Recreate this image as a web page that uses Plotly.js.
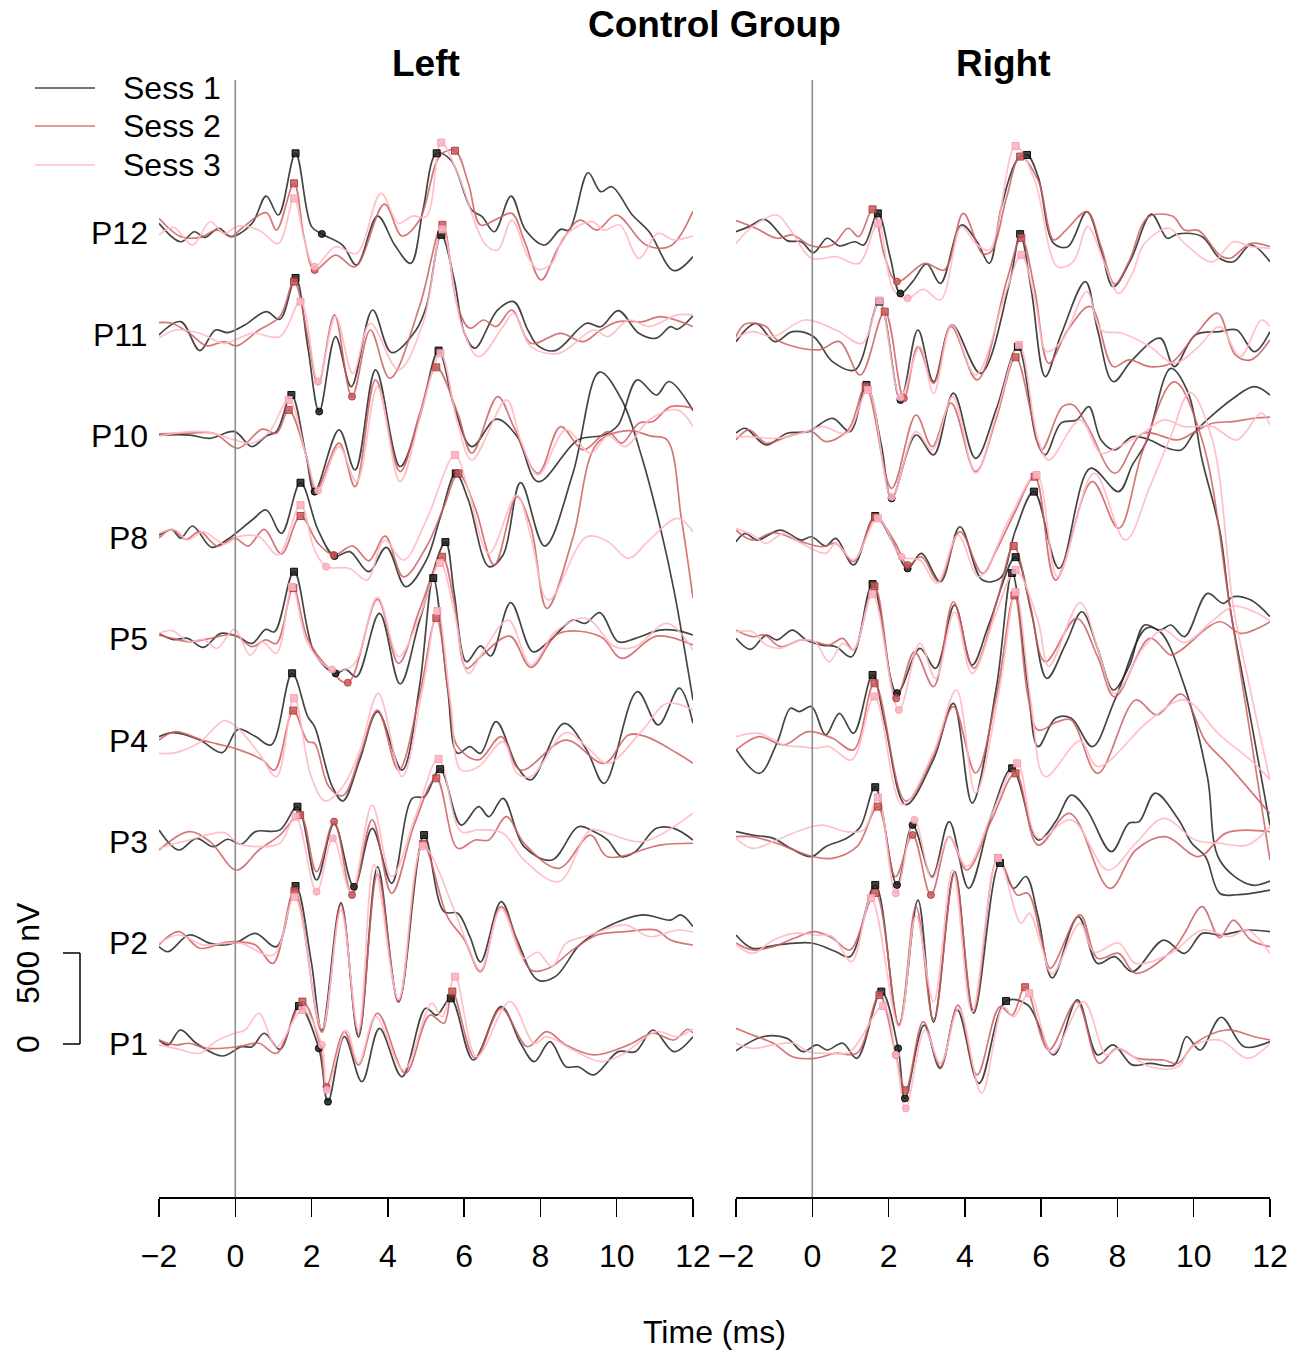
<!DOCTYPE html>
<html><head><meta charset="utf-8">
<script src="https://cdn.plot.ly/plotly-3.0.1.min.js"></script>
<style>html,body{margin:0;padding:0;background:#fff}#chart{width:1308px;height:1354px}</style>
</head><body><div id="chart"></div>
<script>
// ---- categories ----
const electrodes = ['P1','P2','P3','P4','P5','P8','P10','P11','P12'];
const offsets = [0,555,1110,1665,2225,2780,3341,3896,4456]; // nV stacking offsets
const sessions = ['Sess 1','Sess 2','Sess 3'];
const xTicks = [-2,0,2,4,6,8,10,12];
const scaleBar = [0,500];

// ---- LEFT: [time ms, nV, marker('s' peak, 'c' trough)] ----
const L_P12_1=[[-2,53],[-1.43,-48],[-1.07,7],[-0.80,-24],[-0.43,26],[-0.11,-20],[0.44,53],[0.81,203],[1.13,99],[1.58,438,'s'],[2.00,35],[2.27,-5,'c'],[2.81,-66],[3.18,-176],[3.73,93],[4.18,-66],[4.60,-167],[4.92,126],[5.28,438,'s'],[5.65,401],[6.20,126],[6.47,90],[6.79,7],[7.23,203],[7.61,16],[8.11,-66],[8.53,20],[8.75,16],[9.25,331],[9.58,227],[9.87,254],[10.41,99],[10.85,7],[11.50,-207],[12,-130]];
const L_P12_2=[[-2,81],[-1.43,-20],[-0.93,-24],[-0.47,16],[-0.11,-20],[0.17,26],[0.81,112],[1.08,16],[1.54,273,'s'],[1.81,-31],[2.08,-203,'c'],[2.63,-121],[3.14,-185],[3.91,159],[4.37,-16],[4.83,71],[5.38,429],[5.76,452,'s'],[6.11,273],[6.43,44],[6.84,75],[7.25,108],[7.57,-38],[8.02,-258],[8.48,-75],[9.03,71],[9.48,16],[9.99,99],[10.77,-66],[11.41,-71],[12,120]];
const L_P12_3=[[-2,-11],[-1.62,31],[-1.12,-66],[-0.66,62],[-0.29,-2],[0.07,38],[0.62,16],[1.13,-57],[1.54,190,'s'],[1.81,-38],[2.08,-185,'c'],[2.63,-75],[3.18,-112],[3.82,218],[4.28,53],[4.64,93],[5.01,90],[5.40,497,'s'],[5.83,328],[6.57,-66],[6.88,-93],[7.25,71],[7.67,-130],[7.94,-200],[8.30,-167],[8.62,-20],[9.35,62],[9.67,16],[10.08,44],[10.58,-139],[11.08,-2],[11.50,-38],[12,-16]];
const L_P11_1=[[-2,0],[-1.43,73],[-0.93,-86],[-0.52,27],[-0.20,13],[0.25,55],[0.81,128],[1.17,86],[1.58,313,'s'],[1.90,-64],[2.20,-421,'c'],[2.63,-9],[3.04,-284],[3.60,137],[4.10,-97],[4.74,27],[5.01,156],[5.40,550,'s'],[5.74,302],[6.01,9],[6.28,-73],[6.88,137],[7.30,183],[7.67,27],[7.94,-60],[8.39,-86],[9.21,64],[9.58,45],[10.04,134],[10.58,9],[11.04,-18],[11.41,46],[11.59,31],[12,105]];
const L_P11_2=[[-2,68],[-1.66,64],[-1.20,9],[-0.75,-60],[-0.29,-37],[0.03,-60],[0.62,27],[1.17,101],[1.54,293,'s'],[1.90,-9],[2.17,-275],[2.60,110],[3.06,-339,'c'],[3.54,27],[4.05,-238],[4.83,156],[5.43,605,'s'],[5.83,156],[6.15,37],[6.51,82],[6.84,46],[7.25,137],[7.75,-46],[8.53,9],[9.12,-37],[9.58,27],[10.04,73],[10.68,73],[11.14,101],[12,46]];
const L_P11_3=[[-2,-18],[-1.57,27],[-0.93,9],[-0.29,-46],[0.44,9],[1.17,-9],[1.71,183,'s'],[2.17,-256,'c'],[2.63,101],[3.08,-211],[3.54,64],[4.28,-192],[4.92,64],[5.43,580,'s'],[5.92,64],[6.38,-119],[7.02,46],[7.30,119],[7.75,-64],[8.48,-101],[9.40,27],[9.77,-9],[10.31,82],[10.85,46],[11.59,110],[12,110]];
const L_P10_1=[[-2,5],[-1.20,5],[-0.66,-13],[-0.02,24],[0.44,-59],[0.81,0],[1.08,24],[1.47,225,'s'],[1.85,-100],[2.08,-306,'c'],[2.72,33],[3.14,-187],[3.68,363],[4.32,-168],[4.83,100],[5.33,469,'s'],[5.74,161],[6.20,-59],[6.84,92],[7.38,0],[7.94,-251],[8.98,-22],[9.67,5],[10.04,60],[10.54,308],[11.04,225],[11.37,299],[12,140]];
const L_P10_2=[[-2,11],[-1.20,15],[-0.56,15],[0.07,-68],[0.71,37],[1.08,15],[1.40,143,'s'],[1.85,-100],[2.12,-297],[2.72,-40],[3.14,-279],[3.68,308],[4.32,-196],[4.83,120],[5.27,377,'s'],[5.83,126],[6.20,-95],[6.88,216],[7.30,51],[7.94,-205],[8.53,51],[9.12,-77],[9.77,24],[10.13,-40],[10.58,70],[10.95,79],[11.41,161],[12,152]];
const L_P10_3=[[-2,0],[-1.20,24],[-0.66,18],[-0.02,-22],[0.44,-40],[0.90,24],[1.40,198,'s'],[1.85,-100],[2.17,-300,'c'],[2.72,-59],[3.18,-251],[3.73,271],[4.32,-251],[4.90,150],[5.38,454,'s'],[5.83,70],[6.20,-132],[7.11,198],[7.48,-22],[7.94,-214],[8.67,33],[9.31,-95],[9.77,0],[10.22,-59],[10.85,88],[11.59,143],[12,51]];
const L_P8_1=[[-2,16],[-1.66,44],[-1.43,0],[-1.12,66],[-0.62,-51],[-0.20,-7],[0.44,99],[0.81,154],[1.21,26],[1.71,304,'s'],[2.17,44],[2.60,-99,'c'],[3.00,-75],[3.50,-185],[3.96,-51],[4.47,-267],[5.01,-121],[5.38,117],[5.78,355,'s'],[6.11,209],[6.65,-157],[7.02,-93],[7.48,304],[8.11,-44],[8.85,355],[9.55,912],[10.13,760],[10.68,429],[11.14,60],[11.50,-286],[12,-890]];
const L_P8_2=[[-2,0],[-1.66,48],[-1.30,-7],[-0.93,35],[-0.47,-44],[-0.02,0],[0.34,-44],[0.76,48],[1.21,-88],[1.71,121,'s'],[2.17,-29],[2.58,-93,'c'],[3.08,-44],[3.50,-125],[3.93,11],[4.41,-213],[5.01,-48],[5.47,172],[5.85,355,'s'],[6.28,172],[6.79,-148],[7.38,227],[7.75,62],[8.17,-387],[8.85,0],[9.49,521],[10.30,590],[10.90,560],[11.32,539],[11.70,100],[12,-330]];
const L_P8_3=[[-2,26],[-1.57,44],[-1.25,-11],[-0.84,35],[-0.29,-33],[0.07,7],[0.62,7],[1.13,-93],[1.71,181,'s'],[2.08,-66],[2.38,-157,'c'],[3.00,-167],[3.45,-231],[3.91,-11],[4.41,-121],[5.01,99],[5.76,456,'s'],[6.11,264],[6.65,-84],[7.38,236],[7.75,7],[8.21,-341],[9.21,7],[9.77,-20],[10.31,-112],[10.85,-11],[11.59,108],[12,35]];
const L_P5_1=[[-2,31],[-1.62,-3],[-1.25,4],[-0.84,-46],[-0.38,31],[0.07,13],[0.44,-24],[0.80,53],[1.03,40],[1.54,370,'s'],[2.08,-79],[2.63,-189,'c'],[2.89,-167],[3.18,-207],[3.78,141],[4.32,-247],[4.83,100],[5.51,533,'s'],[5.74,250],[6.06,-125],[6.43,-38],[6.70,-93],[7.22,200],[7.80,-70],[8.21,-15],[8.85,104],[9.17,86],[9.56,145],[10.04,-15],[10.49,4],[11.13,49],[11.59,46],[12,22]];
const L_P5_2=[[-2,22],[-1.57,0],[-1.21,-15],[-0.75,0],[-0.02,22],[0.44,-42],[0.80,-5],[1.08,-24],[1.52,280,'s'],[1.90,0],[2.45,-161],[2.95,-240,'c'],[3.73,218],[4.28,-134],[4.83,160],[5.42,452,'s'],[5.74,200],[6.06,-161],[6.43,-97],[7.20,16],[7.75,-156],[8.48,31],[9.58,13],[10.13,-106],[11.04,16],[12,-33]];
const L_P5_3=[[-2,31],[-1.66,46],[-1.21,-15],[-0.84,-2],[-0.48,-51],[-0.02,53],[0.39,-88],[0.71,-15],[1.08,-79],[1.49,286,'s'],[1.90,-24],[2.54,-167,'c'],[3.09,-143],[3.73,229],[4.28,-97],[4.83,120],[5.37,418,'s'],[5.74,150],[6.11,-189],[6.47,-79],[7.16,104],[7.75,-143],[8.39,40],[9.21,114],[9.95,-42],[10.49,-42],[11.32,86],[12,-60]];
const L_P4_1=[[-2,24],[-1.62,46],[-0.93,5],[-0.34,-64],[0.07,64],[0.53,24],[0.94,-22],[1.49,372,'s'],[1.90,134],[2.08,79],[2.54,-250],[2.82,-330],[3.27,-100],[3.73,161],[4.37,-160],[4.83,300],[5.19,895,'s'],[5.56,300],[5.83,-68],[6.15,-31],[6.43,-68],[6.84,106],[7.39,-141],[7.75,-214],[8.62,97],[9.21,-49],[9.67,-233],[10.54,271],[11.09,88],[11.64,290],[12,97]];
const L_P4_2=[[-2,5],[-1.57,51],[-0.93,9],[-0.48,-16],[0.07,-46],[0.71,-104],[1.03,-160],[1.52,167,'s'],[1.90,-4],[2.08,-13],[2.45,-250],[2.82,-300],[3.27,-80],[3.73,170],[4.28,-160],[4.83,250],[5.27,676,'s'],[5.60,250],[5.83,-31],[6.38,-104],[6.97,24],[7.48,-160],[8.67,5],[9.67,-123],[10.31,33],[10.77,24],[11.59,-68],[12,-123]];
const L_P4_3=[[-2,-68],[-1.57,-64],[-0.93,-7],[-0.29,112],[0.07,70],[0.62,-68],[1.08,-196],[1.54,235,'s'],[1.99,-196],[2.36,-330],[2.82,-250],[3.27,-50],[3.75,262],[4.37,-196],[4.92,300],[5.30,714,'s'],[5.65,200],[5.92,-160],[6.38,-141],[7.02,-4],[7.39,-178],[7.75,-196],[8.67,46],[9.21,-31],[9.76,-123],[10.68,60],[11.32,207],[12,170]];
const L_P3_1=[[-2,66],[-1.48,-44],[-1.02,20],[-0.57,-26],[-0.20,15],[0.16,-11],[0.53,57],[1.17,66],[1.63,194,'s'],[2.13,-209],[2.59,100],[3.11,-246,'c'],[3.59,75],[4.10,-227],[4.64,240],[4.96,250],[5.37,400,'s'],[5.92,93],[6.38,194],[6.65,139],[7.02,240],[7.57,-26],[8.30,-99],[8.99,84],[9.40,57],[9.76,11],[10.13,-81],[10.49,-53],[11.04,75],[11.50,75],[12,11]];
const L_P3_2=[[-2,-44],[-1.21,57],[-0.66,2],[0.03,-154],[0.62,-44],[1.17,38],[1.70,148,'s'],[2.13,-163],[2.59,112,'c'],[3.06,-291,'c'],[3.59,121],[4.10,-282],[4.70,100],[5.27,350,'s'],[5.83,-35],[6.29,11],[6.65,11],[7.11,139],[7.57,-7],[8.48,-145],[9.31,38],[9.76,-81],[11.13,-17],[12,-7]];
const L_P3_3=[[-2,-35],[-1.21,11],[-0.29,51],[0.07,-7],[0.62,-26],[1.17,-7],[1.58,139,'s'],[2.13,-273,'c'],[2.56,20,'c'],[3.04,-282],[3.59,203],[4.10,-191],[4.74,150],[5.33,456,'s'],[5.92,57],[6.38,66],[7.02,48],[7.57,-99],[8.48,-218],[9.31,66],[9.76,48],[10.68,2],[12,158]];
const L_P2_1=[[-2,-20],[-1.76,-48],[-1.21,44],[-0.66,-2],[-0.29,-11],[0.07,7],[0.53,53],[1.08,-20],[1.58,313,'s'],[1.99,-100],[2.27,-480],[2.77,220],[3.23,-516],[3.73,418],[4.28,-324],[4.95,593,'s'],[5.47,172],[5.83,163],[6.15,35],[6.43,-104],[6.97,227],[7.39,16],[7.93,-203],[8.39,-185],[9.03,-11],[9.76,90],[10.68,154],[11.41,126],[11.68,154],[12,90]];
const L_P2_2=[[-2,-11],[-1.48,62],[-0.93,-29],[-0.29,2],[0.07,7],[0.53,-11],[0.99,-112],[1.55,286,'s'],[2.27,-490],[2.77,210],[3.23,-500],[3.73,380],[4.28,-320],[4.92,545,'s'],[5.56,145],[6.01,16],[6.43,-158],[6.97,200],[7.75,-148],[8.21,-139],[8.85,-38],[9.49,44],[10.22,62],[11.04,71],[11.41,16],[12,-11]];
const L_P2_3=[[-2,-2],[-1.48,44],[-0.84,-11],[-0.29,-2],[0.16,-2],[0.99,-66],[1.55,253,'s'],[2.27,-470],[2.77,180],[3.23,-480],[3.64,430],[4.28,-310],[4.92,532,'s'],[5.74,181],[6.11,-20],[6.43,-150],[6.97,190],[7.57,-84],[7.93,-51],[8.30,-130],[8.67,-2],[9.31,44],[10.22,99],[10.86,35],[11.59,71],[12,60]];
const L_P1_1=[[-2,22],[-1.76,-5],[-1.44,77],[-1.02,4],[-0.34,-66],[0.16,-15],[0.44,-15],[0.76,59],[1.17,-29],[1.67,209,'s'],[2.19,-24,'c'],[2.43,-317,'c'],[2.86,40],[3.32,-207],[3.78,86],[4.37,-180],[4.99,196],[5.28,159],[5.65,251,'s'],[6.24,-88],[6.97,205],[7.48,4],[7.84,-97],[8.25,13],[8.67,-125],[8.99,-125],[9.40,-170],[10.04,-42],[10.49,-42],[10.95,77],[11.50,-42],[12,40]];
const L_P1_2=[[-2,22],[-1.57,-5],[-1.21,4],[-0.75,-24],[0.07,-15],[0.62,4],[1.08,-51],[1.76,233,'s'],[2.22,-5],[2.39,-235,'c'],[2.86,68],[3.23,-115],[3.73,169],[4.46,-161],[5.10,159],[5.47,114],[5.69,288,'s'],[6.29,-79],[6.97,196],[7.66,-15],[8.16,68],[8.67,-5],[9.40,-60],[10.31,-5],[10.95,59],[11.50,22],[11.86,81],[12,60]];
const L_P1_3=[[-2,-5],[-1.57,-24],[-0.93,-51],[-0.52,13],[-0.02,59],[0.26,77],[0.62,169],[1.08,-15],[1.76,187,'s'],[2.27,-5,'c'],[2.40,-253,'c'],[2.91,77],[3.23,-106],[3.68,150],[4.41,-143],[5.15,224],[5.42,150],[5.76,370,'s'],[6.33,-70],[7.20,233],[7.84,4],[8.16,40],[8.85,-33],[9.58,-97],[10.13,-60],[11.04,68],[11.59,40],[12,86]];

// ---- RIGHT ----
const R_P12_1=[[-2,7],[-1.66,35],[-1.25,75],[-0.66,-42],[-0.29,-48],[0.03,-108],[0.39,-29],[0.71,-71],[1.12,-48],[1.35,-66],[1.72,108,'s'],[2.04,-130],[2.31,-332,'c'],[2.63,-267],[3.00,-170],[3.36,-277],[3.91,44],[4.32,-48],[4.64,-167],[4.96,145],[5.37,401],[5.63,429,'s'],[5.92,310],[6.33,-57],[6.70,-75],[7.20,117],[7.57,-93],[7.89,-295],[8.35,-148],[8.89,104],[9.31,-29],[9.58,-5],[10.22,-20],[10.68,-139],[11.04,-158],[11.50,-66],[12,-158]];
const R_P12_2=[[-2,68],[-1.48,26],[-0.93,-29],[-0.52,-11],[-0.02,-71],[0.53,-66],[0.94,26],[1.22,-20],[1.58,130,'s'],[1.90,-130],[2.22,-267,'c'],[2.95,-167],[3.46,-203],[3.96,108],[4.46,-112],[4.69,-102],[5.10,200],[5.45,420,'s'],[5.92,291],[6.33,-38],[6.65,16],[7.20,117],[7.57,-75],[7.93,-280],[8.30,-158],[8.80,86],[9.44,93],[9.76,16],[10.13,13],[10.68,-121],[10.95,-139],[11.50,-57],[12,-75]];
const R_P12_3=[[-2,-57],[-1.57,35],[-0.93,99],[-0.57,16],[-0.02,-139],[0.62,-130],[1.22,-167],[1.72,53,'s'],[2.13,-313],[2.50,-359,'c'],[2.91,-310],[3.36,-368],[3.91,35],[4.28,-57],[4.64,-93],[5.33,478,'s'],[5.83,290],[6.43,-185],[6.84,-158],[7.22,35],[7.66,-167],[8.03,-332],[8.39,-222],[8.71,-57],[9.35,26],[9.76,-57],[10.49,-158],[11.04,-48],[11.50,-75],[12,-84]];
const R_P11_1=[[-2,-37],[-1.48,64],[-0.98,-37],[-0.52,18],[0.03,-9],[0.53,-147],[1.12,-192],[1.76,183,'s'],[2.31,-357,'c'],[2.77,27],[3.18,-257],[3.66,55],[4.41,-211],[5.19,302],[5.45,554,'s'],[5.74,250],[6.11,-229],[6.52,0],[7.16,293],[7.48,27],[7.89,-257],[8.39,-137],[9.12,-18],[9.49,-174],[10.04,0],[10.68,18],[11.13,27],[11.59,-92],[12,18]];
const R_P11_2=[[-2,-9],[-1.76,60],[-1.21,46],[-0.93,-27],[0.16,-82],[0.71,-37],[1.26,-220],[1.90,128,'s'],[2.40,-348,'c'],[2.77,-64],[3.18,-266],[3.64,46],[4.32,-247],[5.10,300],[5.48,533,'s'],[5.83,250],[6.20,-156],[6.70,27],[7.29,156],[7.89,-174],[8.30,-137],[8.85,-174],[9.40,-156],[10.04,0],[10.63,119],[11.09,-110],[11.50,-137],[12,-27]];
const R_P11_3=[[-2,-18],[-1.57,18],[-1.02,-9],[-0.20,82],[0.62,27],[1.31,-46],[1.76,189,'s'],[2.31,-343,'c'],[2.82,-64],[3.18,-321],[3.66,55],[4.28,-220],[5.10,250],[5.48,440,'s'],[5.83,200],[6.15,-92],[6.56,-27],[7.20,238],[7.57,27],[8.12,9],[8.85,-64],[9.49,-156],[10.13,-64],[10.68,46],[11.22,-119],[11.77,82],[12,46]];
const R_P10_1=[[-2,15],[-1.76,42],[-1.21,-49],[-0.66,15],[-0.11,24],[0.53,97],[0.99,24],[1.42,280,'s'],[1.81,-50],[2.08,-343,'c'],[2.72,5],[3.18,-104],[3.70,235],[4.28,-123],[4.83,150],[5.39,490,'s'],[5.88,-22],[6.11,-104],[6.52,70],[6.93,88],[7.25,161],[7.57,-22],[7.93,-77],[8.39,-4],[8.85,-22],[9.21,-59],[9.67,-77],[10.04,24],[11.04,207],[11.59,271],[12,225]];
const R_P10_2=[[-2,-22],[-1.66,33],[-1.21,-40],[-0.66,-4],[-0.02,24],[0.35,-31],[0.94,33],[1.40,271,'s'],[2.08,-288],[2.72,115],[3.14,-59],[3.64,180],[4.28,-196],[4.83,100],[5.33,432,'s'],[5.74,125],[6.01,-77],[6.56,161],[6.84,170],[7.25,40],[7.93,-205],[8.67,15],[9.58,-22],[10.04,24],[10.49,70],[11.04,79],[11.59,97],[12,103]];
const R_P10_3=[[-2,-4],[-1.66,-4],[-0.93,-13],[-0.29,15],[0.26,51],[0.90,15],[1.46,253,'s'],[2.08,-335,'c'],[2.72,24],[3.14,-77],[3.68,216],[4.28,-205],[4.83,120],[5.42,500,'s'],[5.92,-22],[6.20,-132],[7.02,88],[7.57,-95],[8.03,-59],[8.67,15],[9.21,88],[9.76,51],[10.49,51],[11.13,-22],[11.77,125],[12,60]];
const R_P8_1=[[-2,-20],[-1.76,26],[-1.44,-11],[-0.84,44],[-0.29,-11],[-0.02,7],[0.35,-44],[0.62,-2],[1.08,-148],[1.65,121,'s'],[2.08,-11],[2.50,-167,'c'],[2.86,-84],[3.36,-240],[3.87,62],[4.46,-231],[4.92,-222],[5.33,44],[5.81,255,'s'],[6.47,-167],[7.29,383],[8.03,255],[8.39,401],[8.76,530],[9.40,932],[9.85,800],[10.22,429],[10.68,44],[10.95,-378],[11.50,-1000],[12,-1578]];
const R_P8_2=[[-2,44],[-1.57,-11],[-1.02,29],[-0.29,-20],[0.26,-48],[0.62,-29],[1.08,-130],[1.65,114,'s'],[2.18,-29],[2.50,-148,'c'],[2.86,-103],[3.32,-240],[3.87,35],[4.46,-194],[4.83,-66],[5.33,150],[5.83,337,'s'],[6.38,-231],[7.34,310],[8.03,53],[8.67,484],[9.49,858],[10.22,539],[10.95,-378],[11.50,-1100],[12,-1770]];
const R_P8_3=[[-2,53],[-1.57,16],[-1.21,-29],[-0.75,26],[-0.29,-29],[0.35,-84],[0.62,-29],[1.08,-121],[1.72,108,'s'],[2.34,-103,'c'],[2.82,-121],[3.27,-249],[3.82,16],[4.37,-213],[5.19,117],[5.88,346,'s'],[6.43,-213],[7.39,355],[8.21,-11],[8.85,282],[9.40,560],[9.90,800],[10.49,539],[11.04,-378],[11.50,-850],[12,-1330]];
const R_P5_1=[[-2,4],[-1.62,-57],[-1.21,22],[-0.93,-5],[-0.52,49],[-0.16,-5],[0.26,-33],[0.62,-42],[1.03,-97],[1.58,302,'s'],[2.22,-297,'c'],[2.82,-51],[3.23,-161],[3.73,187],[4.19,-143],[4.64,86],[5.33,450,'s'],[5.74,150],[6.15,-216],[6.65,-24],[7.07,150],[7.48,-51],[7.89,-280],[8.30,-152],[8.71,77],[9.12,49],[9.40,77],[9.76,13],[10.36,251],[10.77,196],[11.04,233],[11.50,214],[12,123]];
const R_P5_2=[[-2,49],[-1.57,13],[-1.25,22],[-0.84,-42],[-0.29,-5],[0.07,-15],[0.44,-33],[0.80,4],[1.08,-60],[1.63,290,'s'],[2.20,-326,'c'],[2.68,-70],[3.18,-262],[3.70,205],[4.23,-161],[4.83,200],[5.28,511,'s'],[5.70,200],[6.11,-125],[6.93,114],[7.48,-97],[7.93,-317],[8.85,4],[9.40,-88],[9.67,-60],[10.68,95],[11.22,31],[11.68,59],[12,95]];
const R_P5_3=[[-2,40],[-1.57,40],[-1.21,-33],[-0.84,-51],[-0.29,-5],[0.07,-15],[0.44,-125],[0.80,-24],[1.08,-60],[1.58,247,'s'],[2.27,-390,'c'],[2.82,-24],[3.23,-216],[3.73,150],[4.19,-189],[4.83,150],[5.33,379,'s'],[5.92,100],[6.20,-150],[7.02,200],[7.48,-50],[7.93,-300],[8.67,-50],[9.21,50],[9.76,-20],[10.49,100],[11.04,180],[11.59,150],[12,100]];
const R_P4_1=[[-2,-46],[-1.39,-178],[-0.93,-13],[-0.57,180],[-0.34,161],[-0.02,189],[0.35,33],[0.71,152],[1.08,42],[1.58,363,'s'],[1.90,100],[2.45,-350],[3.18,-100],[3.70,207],[4.19,-341],[4.83,300],[5.24,923,'s'],[5.65,300],[5.92,-31],[6.38,125],[6.79,125],[7.34,-31],[7.93,225],[8.76,620],[9.12,600],[9.76,300],[10.36,-198],[10.68,-654],[11.50,-791],[12,-770]];
const R_P4_2=[[-2,-49],[-1.39,24],[-0.75,-22],[-0.11,51],[0.53,15],[1.08,-49],[1.63,317,'s'],[2.45,-330],[3.18,-80],[3.70,189],[4.28,-176],[4.83,250],[5.30,800,'s'],[5.65,250],[5.92,60],[6.43,106],[6.79,115],[7.48,-178],[8.48,225],[9.03,143],[9.67,258],[10.31,0],[10.86,-123],[12,-400]];
const R_P4_3=[[-2,24],[-1.39,42],[-0.75,-22],[-0.29,-31],[0.07,-40],[0.44,-31],[1.03,-104],[1.63,244,'s'],[2.36,-350],[3.18,-60],[3.78,280],[4.28,-286],[4.92,300],[5.33,818,'s'],[5.74,200],[6.11,-196],[7.02,0],[7.48,-141],[8.85,115],[9.76,225],[10.68,33],[11.59,-123],[12,-214]];
const R_P3_1=[[-2,57],[-1.57,38],[-1.02,20],[-0.57,-35],[-0.02,-81],[0.35,-26],[0.90,20],[1.26,84],[1.65,301,'s'],[2.22,-236,'c'],[2.63,93,'c'],[3.14,-191],[3.59,112],[4.10,-255],[4.70,150],[5.24,405,'s'],[5.92,11],[6.38,112],[6.79,258],[7.20,176],[7.84,-53],[8.30,103],[8.57,112],[8.99,268],[9.58,130],[9.95,-7],[10.31,-81],[10.68,-282],[11.13,-290],[12,-264]];
const R_P3_2=[[-2,29],[-1.57,29],[-0.93,-7],[-0.48,-44],[0.03,-81],[0.53,-90],[1.17,-26],[1.72,194,'s'],[2.18,-191],[2.63,38,'c'],[3.11,-291,'c'],[3.59,29],[4.05,-154],[4.70,120],[5.33,377,'s'],[5.92,-17],[6.75,157],[7.80,-255],[8.48,-44],[9.26,29],[10.13,-81],[10.86,50],[12,56]];
const R_P3_3=[[-2,20],[-1.57,-35],[-0.93,11],[-0.29,66],[0.26,93],[0.90,57],[1.35,66],[1.72,245,'s'],[2.19,-282,'c'],[2.68,121,'c'],[3.14,-200],[3.59,29],[4.05,-136],[4.70,150],[5.37,432,'s'],[5.92,20],[6.79,121],[7.75,-154],[8.48,-7],[9.21,130],[10.04,11],[10.68,-7],[11.41,-17],[12,84]];
const R_P2_1=[[-2,44],[-1.57,-29],[-0.93,-11],[-0.02,0],[0.62,-48],[0.99,-75],[1.65,319,'s'],[2.27,-450],[2.77,236],[3.18,-434],[3.73,392],[4.23,-385],[4.92,440,'s'],[5.28,300],[5.60,365],[5.92,145],[6.29,-192],[6.97,145],[7.48,-112],[7.93,-75],[8.39,-158],[9.21,16],[9.76,-57],[10.22,53],[10.68,44],[11.41,71],[12,62]];
const R_P2_2=[[-2,0],[-1.57,-38],[-1.02,-20],[-0.48,26],[0.07,62],[0.53,26],[0.99,-38],[1.65,275,'s'],[2.27,-450],[2.72,200],[3.18,-420],[3.73,380],[4.23,-370],[4.87,467,'s'],[5.37,264],[5.65,273],[6.01,16],[6.24,-139],[7.02,154],[7.48,-84],[8.03,-57],[8.48,-167],[9.49,-29],[9.76,53],[10.22,200],[10.68,29],[11.04,126],[11.50,16],[12,-20]];
const R_P2_3=[[-2,-7],[-1.57,-57],[-1.02,16],[-0.48,53],[0.07,44],[0.53,35],[1.03,-103],[1.54,247,'s'],[2.27,-460],[2.72,150],[3.18,-323],[3.68,400],[4.19,-380],[4.87,467,'s'],[5.47,108],[5.69,163],[6.01,-20],[6.29,-170],[7.02,108],[7.39,-50],[8.03,0],[8.48,-112],[9.40,-57],[10.22,71],[10.95,35],[11.41,71],[12,-57]];
const R_P1_1=[[-2,-37],[-1.30,40],[-0.66,31],[-0.25,-42],[0.12,-5],[0.39,-33],[0.80,4],[1.17,-79],[1.81,288,'s'],[2.25,-24,'c'],[2.43,-299,'c'],[2.93,104],[3.35,-134],[3.80,187],[4.37,-216],[5.08,236,'s'],[5.65,214],[6.33,-60],[6.95,242],[7.48,-60],[7.89,-5],[8.39,-115],[8.85,-106],[9.49,-115],[9.81,40],[10.17,-33],[10.72,147],[11.32,-15],[12,13]];
const R_P1_2=[[-2,86],[-1.57,49],[-1.02,4],[-0.52,-70],[0.07,-79],[0.62,-51],[1.17,-51],[1.76,269,'s'],[2.19,-60,'c'],[2.45,-253,'c'],[2.91,123],[3.36,-125],[3.82,214],[4.32,-170],[4.92,205],[5.24,159],[5.58,312,'s'],[6.20,-33],[6.93,233],[7.52,-106],[7.98,-24],[8.53,-79],[9.21,-88],[9.58,-106],[10.04,4],[10.86,77],[11.59,40],[12,22]];
const R_P1_3=[[-2,4],[-1.57,-24],[-1.02,-5],[-0.48,4],[-0.11,-42],[0.44,-51],[0.99,-42],[1.86,209,'s'],[2.19,-60,'c'],[2.45,-354,'c'],[2.95,77],[3.36,-106],[3.84,196],[4.44,-271],[5.01,205],[5.28,150],[5.69,279,'s'],[6.29,-51],[7.11,233],[7.71,-60],[8.03,-24],[8.85,-125],[9.58,-125],[9.95,-15],[10.68,22],[11.41,-79],[12,4]];

// ---- assemble ----
const leftSet = [[L_P1_1,L_P1_2,L_P1_3],[L_P2_1,L_P2_2,L_P2_3],[L_P3_1,L_P3_2,L_P3_3],[L_P4_1,L_P4_2,L_P4_3],[L_P5_1,L_P5_2,L_P5_3],[L_P8_1,L_P8_2,L_P8_3],[L_P10_1,L_P10_2,L_P10_3],[L_P11_1,L_P11_2,L_P11_3],[L_P12_1,L_P12_2,L_P12_3]];
const rightSet = [[R_P1_1,R_P1_2,R_P1_3],[R_P2_1,R_P2_2,R_P2_3],[R_P3_1,R_P3_2,R_P3_3],[R_P4_1,R_P4_2,R_P4_3],[R_P5_1,R_P5_2,R_P5_3],[R_P8_1,R_P8_2,R_P8_3],[R_P10_1,R_P10_2,R_P10_3],[R_P11_1,R_P11_2,R_P11_3],[R_P12_1,R_P12_2,R_P12_3]];

const lineCol = ['rgba(35,35,35,0.85)','rgba(205,95,95,0.85)','rgba(255,185,196,0.9)'];
const mkCol = ['rgba(30,30,30,0.85)','rgba(205,90,90,0.85)','rgba(255,180,192,0.9)'];
const mkEdge = ['rgba(0,0,0,0.9)','rgba(170,60,60,0.9)','rgba(240,160,175,0.9)'];

const traces = [];
[[leftSet,'x'],[rightSet,'x2']].forEach(([set,xa])=>{
  for (let s=0;s<3;s++){
    set.forEach((elec,ei)=>{
      const pts = elec[s], off = offsets[ei];
      traces.push({type:'scatter',mode:'lines',xaxis:xa,yaxis:'y',hoverinfo:'skip',
        x:pts.map(p=>p[0]), y:pts.map(p=>p[1]+off),
        line:{color:lineCol[s],width:1.7,shape:'spline',smoothing:1}});
    });
  }
  for (let s=0;s<3;s++){
    set.forEach((elec,ei)=>{
      const m = elec[s].filter(p=>p[2]);
      if(!m.length) return;
      traces.push({type:'scatter',mode:'markers',xaxis:xa,yaxis:'y',hoverinfo:'skip',
        x:m.map(p=>p[0]), y:m.map(p=>p[1]+offsets[ei]),
        marker:{symbol:m.map(p=>p[2]==='s'?'square':'circle'),size:7,color:mkCol[s],line:{color:mkEdge[s],width:1}}});
    });
  }
});

const FONT = 'Liberation Sans, Arial, Helvetica, sans-serif';
const W=1308,H=1354,L=159,R=38,T=80,B=157;
const pw=W-L-R, ph=H-T-B;
const px = v => (v-L)/pw;
const py = v => (H-B-v)/ph;
const TXT = 32, TTL = 37;

const axisCommon = {range:[-2,12],tickvals:xTicks,ticktext:xTicks.map(v=>v<0?'\u2212'+Math.abs(v):String(v)),
  ticks:'outside',ticklen:18,tickwidth:1.5,tickcolor:'#000',showline:true,linewidth:1.5,linecolor:'#000',
  showgrid:false,zeroline:false,tickfont:{family:FONT,size:TXT,color:'#000'},ticklabelstandoff:12,fixedrange:true,anchor:'y'};

const ann = (text,x,y,size,extra) => Object.assign({text:text,xref:'paper',yref:'paper',x:x,y:y,xanchor:'center',yanchor:'middle',showarrow:false,font:{family:FONT,size:size,color:'#000'}},extra||{});
const annotations = [
  ann('<b>Control Group</b>',px(714),py(25),TTL),
  ann('<b>Left</b>',px(426),py(63),TTL),
  ann('<b>Right</b>',px(1003),py(63),TTL),
  ann('Time (ms)',px(714),py(1332),TXT),
  ann(String(scaleBar[0]),px(28),scaleBar[0],TXT,{yref:'y',textangle:-90}),
  ann(scaleBar[1]+' nV',px(28),scaleBar[1],TXT,{yref:'y',textangle:-90})
];
electrodes.forEach((e,i)=>annotations.push(ann(e,px(150),offsets[i],TXT,{yref:'y',xanchor:'right'})));
const legY=[88,126,165];
sessions.forEach((s,i)=>annotations.push(ann(s,px(121),py(legY[i]),TXT,{xanchor:'left'})));

const shapes = [
  {type:'line',xref:'x',yref:'paper',x0:0,x1:0,y0:0,y1:1,line:{color:'#8c8c8c',width:1.6}},
  {type:'line',xref:'x2',yref:'paper',x0:0,x1:0,y0:0,y1:1,line:{color:'#8c8c8c',width:1.6}},
  {type:'line',xref:'paper',yref:'y',x0:px(80),x1:px(80),y0:scaleBar[0],y1:scaleBar[1],line:{color:'#000',width:1.5}},
  {type:'line',xref:'paper',yref:'y',x0:px(63),x1:px(80),y0:scaleBar[0],y1:scaleBar[0],line:{color:'#000',width:1.5}},
  {type:'line',xref:'paper',yref:'y',x0:px(63),x1:px(80),y0:scaleBar[1],y1:scaleBar[1],line:{color:'#000',width:1.5}}
];
sessions.forEach((s,i)=>shapes.push({type:'line',xref:'paper',yref:'paper',x0:px(35),x1:px(95),y0:py(legY[i]),y1:py(legY[i]),line:{color:lineCol[i],width:1.7}}));

const layout = {width:W,height:H,margin:{l:L,r:R,t:T,b:B},paper_bgcolor:'#fff',plot_bgcolor:'#fff',showlegend:false,
  font:{family:FONT,color:'#000'},
  xaxis:Object.assign({},axisCommon,{domain:[0,(693-L)/pw]}),
  xaxis2:Object.assign({},axisCommon,{domain:[(736-L)/pw,1]}),
  yaxis:{range:[-840.7,5296.7],visible:false,fixedrange:true},
  annotations:annotations,shapes:shapes};

Plotly.newPlot('chart',traces,layout,{displayModeBar:false,staticPlot:true});
</script></body></html>
